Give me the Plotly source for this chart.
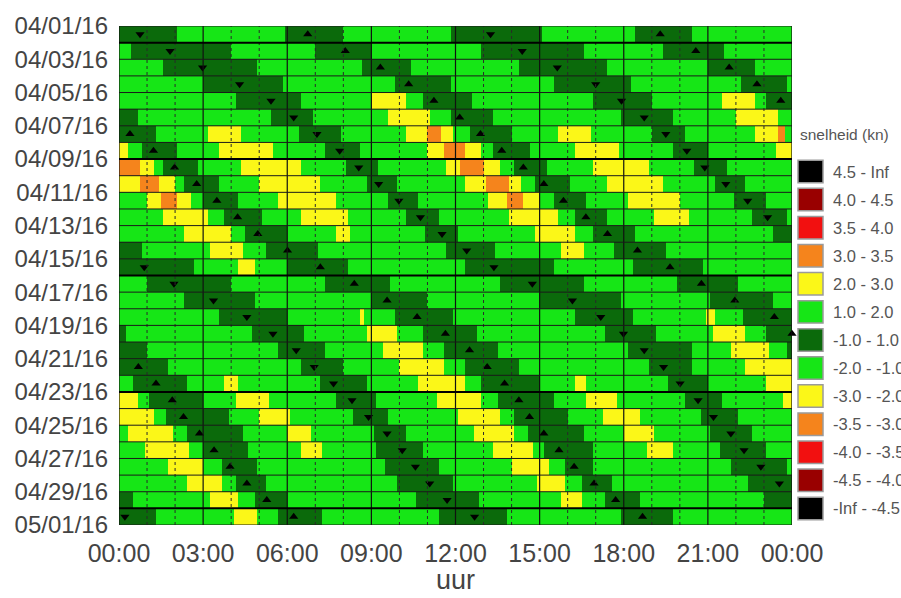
import numpy as np
import pandas as pd
import plotly.graph_objects as go

# ---------------- data ----------------
# representative current speed (kn) for each colour band
D, G, Y, O = 0.5, 1.5, 2.5, 3.2

day_labels = pd.date_range("2016-04-01", "2016-04-30", freq="D")

# per day: (start hour, speed) of each band
speed_segments = [
    [(0, D), (2.06, G), (5.95, D), (8.0, G), (11.86, D), (15.1, G), (18.4, D), (20.45, G)],
    [(0, G), (0.4, D), (4.02, G), (7.0, D), (8.96, G), (12.89, D), (16.58, G), (19.44, D), (21.58, G)],
    [(0, G), (1.58, D), (4.92, G), (8.67, D), (10.4, G), (14.26, D), (17.42, G), (21.0, D), (22.7, G)],
    [(0, G), (2.98, D), (5.8, G), (9.86, D), (11.82, G), (15.51, D), (18.25, G), (22.2, D), (23.8, G)],
    [(0, G), (4.2, D), (6.52, G), (9.02, Y), (10.21, G), (10.81, D), (12.6, G), (16.94, D), (18.96, G), (21.46, Y), (22.65, G), (23.1, D)],
    [(0, D), (0.69, G), (5.39, D), (6.94, G), (9.56, Y), (11.1, G), (11.82, D), (13.37, G), (17.95, D), (19.74, G), (22.0, Y), (23.5, G)],
    [(0, D), (1.35, G), (3.13, Y), (4.32, G), (6.4, D), (7.95, G), (10.21, Y), (10.99, O), (11.52, Y), (11.95, G), (12.5, D), (14.02, G), (15.63, Y), (16.82, G), (18.96, D), (20.15, G), (22.7, Y), (23.49, O), (23.79, G)],
    [(0, Y), (0.33, G), (0.81, D), (2.06, G), (3.6, Y), (5.51, G), (7.36, D), (8.6, G), (10.99, Y), (11.58, O), (12.36, Y), (12.9, G), (13.35, D), (14.68, G), (16.23, Y), (17.85, G), (19.75, D), (21.03, G), (23.43, Y)],
    [(0, O), (0.72, Y), (1.23, G), (1.56, D), (2.8, G), (4.3, Y), (6.46, G), (8.07, D), (9.26, G), (11.64, Y), (12.15, O), (13.04, Y), (13.58, G), (14.05, D), (15.27, G), (16.88, Y), (18.95, G), (20.5, D), (21.7, G)],
    [(0, Y), (0.73, O), (1.45, Y), (1.97, G), (2.36, D), (3.55, G), (5.04, Y), (7.18, G), (8.85, D), (9.95, G), (12.36, Y), (13.07, O), (13.9, Y), (14.32, G), (14.8, D), (16.05, G), (17.42, Y), (19.43, G), (21.28, D), (22.34, G)],
    [(0, G), (0.99, Y), (1.48, O), (2.08, Y), (2.6, G), (3.01, D), (4.25, G), (5.63, Y), (7.77, G), (9.56, D), (10.69, G), (13.13, Y), (13.85, O), (14.44, Y), (15.04, G), (15.51, D), (16.7, G), (18.15, Y), (20.0, G), (21.94, D), (23.1, G)],
    [(0, G), (1.56, Y), (3.2, G), (3.72, D), (5.1, G), (6.46, Y), (8.19, G), (10.24, D), (11.43, G), (13.93, Y), (15.63, G), (16.23, D), (17.44, G), (19.08, Y), (20.36, G), (22.62, D), (23.85, G)],
    [(0, G), (2.3, Y), (3.96, G), (4.5, D), (5.99, G), (7.77, Y), (8.25, G), (10.93, D), (12.1, G), (14.8, Y), (16.23, G), (16.88, D), (18.43, G), (23.3, D)],
    [(0, D), (0.87, G), (3.25, Y), (4.4, G), (5.27, D), (7.06, G), (11.64, D), (13.4, G), (15.75, Y), (16.58, G), (17.65, D), (19.5, G)],
    [(0, D), (2.7, G), (4.25, Y), (4.86, G), (5.99, D), (8.19, G), (12.3, D), (15.51, G), (18.37, D), (20.8, G)],
    [(0, G), (0.99, D), (3.96, G), (7.36, D), (9.65, G), (13.6, D), (16.58, G), (19.9, D), (22.08, G)],
    [(0, G), (2.3, D), (4.8, G), (8.96, D), (10.99, G), (14.98, D), (17.95, G), (21.1, D), (23.3, G)],
    [(0, G), (3.6, D), (5.99, G), (8.55, Y), (8.79, G), (9.86, D), (11.95, G), (16.28, D), (18.37, G), (20.95, Y), (21.22, G), (22.24, D)],
    [(0, D), (0.21, G), (4.74, D), (6.58, G), (8.85, Y), (9.95, G), (10.87, D), (12.77, G), (17.3, D), (19.15, G), (21.2, Y), (22.36, G), (23.07, D)],
    [(0, D), (0.99, G), (5.69, D), (7.3, G), (9.38, Y), (10.87, G), (11.58, D), (13.49, G), (18.2, D), (20.38, G), (21.8, Y), (23.13, G), (23.85, D)],
    [(0, D), (1.74, G), (6.52, D), (8.01, G), (10.0, Y), (11.6, G), (12.3, D), (14.26, G), (18.9, D), (20.44, G), (22.36, Y)],
    [(0, G), (0.48, D), (2.42, G), (3.72, Y), (4.22, G), (7.18, D), (8.85, G), (10.63, Y), (12.33, G), (12.89, D), (15.04, G), (16.23, Y), (16.65, G), (19.56, D), (21.04, G), (23.07, Y)],
    [(0, Y), (0.63, G), (1.12, D), (3.0, G), (4.2, Y), (5.33, G), (7.77, D), (9.2, G), (11.35, Y), (12.89, G), (13.5, D), (15.51, G), (16.7, Y), (17.77, G), (20.15, D), (21.46, G), (23.68, Y)],
    [(0, Y), (1.23, G), (1.7, D), (3.9, G), (4.98, Y), (6.05, G), (8.37, D), (9.62, G), (12.06, Y), (13.55, G), (14.1, D), (16.0, G), (17.28, Y), (18.6, G), (20.75, D), (22.07, G)],
    [(0, G), (0.3, Y), (1.88, G), (2.42, D), (4.45, G), (5.99, Y), (6.82, G), (9.08, D), (10.27, G), (12.65, Y), (14.1, G), (14.62, D), (16.58, G), (18.01, Y), (19.12, G), (21.1, D), (22.6, G)],
    [(0, G), (0.95, Y), (2.52, G), (2.98, D), (4.57, G), (6.52, Y), (7.24, G), (9.14, D), (10.87, G), (13.37, Y), (14.74, G), (15.15, D), (16.94, G), (18.87, Y), (19.72, G), (21.4, D), (23.12, G)],
    [(0, G), (1.72, Y), (3.0, G), (3.65, D), (4.9, G), (9.5, D), (11.42, G), (14.02, Y), (15.33, G), (15.93, D), (16.94, G), (21.8, D), (23.8, G)],
    [(0, G), (2.44, Y), (3.68, G), (4.2, D), (5.27, G), (9.9, D), (11.88, G), (14.92, Y), (15.93, G), (16.46, D), (17.55, G), (22.4, D)],
    [(0, D), (0.51, G), (3.25, Y), (4.25, G), (4.8, D), (5.99, G), (10.57, D), (12.8, G), (15.75, Y), (16.46, G), (17.3, D), (18.55, G), (23.0, D)],
    [(0, D), (1.35, G), (4.07, Y), (4.9, G), (5.63, D), (7.24, G), (11.4, D), (13.87, G), (17.95, D), (19.75, G)],
]

# slack-water markers (hour of day), per day
slack_down = [[0.75, 13.25], [1.82, 14.38], [2.98, 15.63], [4.3, 17.0], [5.42, 17.92], [6.23, 18.73],
              [7.06, 19.5], [7.87, 20.25], [8.55, 20.89], [9.26, 21.64], [9.98, 22.42], [10.75, 23.13],
              [11.52], [-0.07, 12.4], [0.9, 13.37], [1.96, 14.74], [3.37, 16.17], [4.56, 17.18],
              [5.49, 17.99], [6.32, 18.73], [6.96, 19.42], [7.65, 20.01], [8.31, 20.65], [8.9, 21.2],
              [9.56, 21.82], [10.1, 22.29], [10.57, 22.89], [11.08, 23.55], [11.7], [0.21, 12.68]]
slack_up = [[6.73, 19.3], [8.07, 20.57], [9.32, 21.76], [10.33, 22.75], [11.23, 23.6], [12.15],
            [0.39, 12.89], [1.23, 13.65], [1.98, 14.42], [2.77, 15.15], [3.49, 15.85], [4.23, 16.65],
            [4.95, 17.42], [6.01, 18.49], [7.18, 19.65], [8.39, 20.77], [9.56, 21.96], [10.63, 23.37],
            [11.64, 24.0], [12.5], [0.69, 13.13], [1.32, 13.75], [1.9, 14.26], [2.3, 14.64],
            [2.87, 15.15], [3.39, 15.69], [3.96, 16.23], [4.56, 16.94], [5.27, 17.71], [6.23, 18.67]]

# colour classes (ascending speed)
class_edges = [-4.5, -4.0, -3.5, -3.0, -2.0, -1.0, 1.0, 2.0, 3.0, 3.5, 4.0, 4.5]
class_labels = ["-Inf - -4.5", "-4.5 - -4.0", "-4.0 - -3.5", "-3.5 - -3.0", "-3.0 - -2.0",
                "-2.0 - -1.0", "-1.0 - 1.0", "1.0 - 2.0", "2.0 - 3.0", "3.0 - 3.5",
                "3.5 - 4.0", "4.0 - 4.5", "4.5 - Inf"]
class_colors = ["#000000", "#990000", "#f21010", "#f5841c", "#fbf718", "#16e616", "#0b6a0b",
                "#16e616", "#fbf718", "#f5841c", "#f21010", "#990000", "#000000"]

hour_ticks = [0, 3, 6, 9, 12, 15, 18, 21, 24]
hour_text = ["00:00", "03:00", "06:00", "09:00", "12:00", "15:00", "18:00", "21:00", "00:00"]

# ---------------- build grid ----------------
step = 1 / 12  # 5-minute cells
x_centers = np.arange(288) * step + step / 2
y_centers = [d + pd.Timedelta(hours=12) for d in day_labels]
z = []
for segs in speed_segments:
    starts = np.array([s for s, _ in segs])
    vals = np.array([v for _, v in segs])
    idx = np.searchsorted(starts, x_centers, side="right") - 1
    z.append(np.digitize(vals[idx], class_edges))
z = np.array(z)

n = len(class_colors)
colorscale = []
for i, c in enumerate(class_colors):
    colorscale.append([i / n, c])
    colorscale.append([(i + 1) / n, c])

fig = go.Figure()
fig.add_trace(go.Heatmap(x=x_centers, y=y_centers, z=z, colorscale=colorscale,
                         zmin=-0.5, zmax=n - 0.5, showscale=False, hoverinfo="skip"))

for hours_list, sym in ((slack_down, "triangle-down"), (slack_up, "triangle-up")):
    xs, ys = [], []
    for k, hs in enumerate(hours_list):
        for h in hs:
            xs.append(h)
            ys.append(y_centers[k])
    fig.add_trace(go.Scatter(x=xs, y=ys, mode="markers", cliponaxis=False,
                             marker=dict(symbol=sym, size=8, color="black"),
                             showlegend=False, hoverinfo="skip"))

# ---------------- layout ----------------
W, H = 901, 598
ML, MR, MT, MB = 119, 109, 14, 73
PW, PH = W - ML - MR, H - MT - MB


def px_x(px):
    return (px - ML) / PW


def px_y(py):
    return (H - MB - py) / PH


shapes = []
for h in range(25):
    solid = h % 3 == 0
    shapes.append(dict(type="line", xref="x", yref="paper", x0=h, x1=h, y0=0, y1=1,
                       layer="above",
                       line=dict(color="#111111" if solid else "#2a2a2a",
                                 width=1.2 if solid else 1, dash="solid" if solid else "dot")))
for k in range(len(day_labels) + 1):
    yd = pd.Timestamp("2016-04-01") + pd.Timedelta(days=k)
    week = yd.dayofweek == 5  # Saturday boundaries drawn heavier
    shapes.append(dict(type="line", xref="paper", yref="y", x0=0, x1=1, y0=yd, y1=yd,
                       layer="above", line=dict(color="#000000" if week else "#1a1a1a",
                                                width=2 if week else 1)))

annotations = []
# legend
annotations.append(dict(text="snelheid (kn)", xref="paper", yref="paper", x=px_x(798), y=px_y(125),
                        xanchor="left", yanchor="middle", showarrow=False,
                        font=dict(size=15.5, color="#555555", family="Liberation Sans, Arial")))
for i in range(n):
    ci = n - 1 - i
    cy = 163 + 28.75 * i
    shapes.append(dict(type="rect", xref="paper", yref="paper",
                       x0=px_x(798), x1=px_x(823), y0=px_y(cy + 11.5), y1=px_y(cy - 11.5),
                       fillcolor=class_colors[ci], line=dict(color="#9a9a9a", width=1.5)))
    annotations.append(dict(text=class_labels[ci], xref="paper", yref="paper", x=px_x(831), y=px_y(cy),
                            xanchor="left", yanchor="middle", showarrow=False,
                            font=dict(size=16.5, color="#555555", family="Liberation Sans, Arial")))
annotations.append(dict(text="uur", xref="paper", yref="paper", x=px_x(455), y=px_y(581),
                        xanchor="center", yanchor="middle", showarrow=False,
                        font=dict(size=27, color="#444444", family="Liberation Sans, Arial")))

fig.update_layout(
    width=W, height=H, margin=dict(l=ML, r=MR, t=MT, b=MB),
    paper_bgcolor="white", plot_bgcolor="white",
    font=dict(family="Liberation Sans, Arial", color="#444444"),
    shapes=shapes, annotations=annotations, showlegend=False,
)
fig.update_xaxes(range=[0, 24], tickmode="array", tickvals=hour_ticks, ticktext=hour_text,
                 showgrid=False, zeroline=False, ticks="", ticklabelstandoff=11,
                 tickfont=dict(size=25, color="#444444"))
fig.update_yaxes(type="date", range=["2016-05-01", "2016-04-01"], tick0="2016-04-01",
                 dtick=2 * 86400000, tickformat="%m/%d/%y", showgrid=False, zeroline=False,
                 ticks="", ticklabelstandoff=10, tickfont=dict(size=24, color="#444444"))

fig.write_html("out.html")
